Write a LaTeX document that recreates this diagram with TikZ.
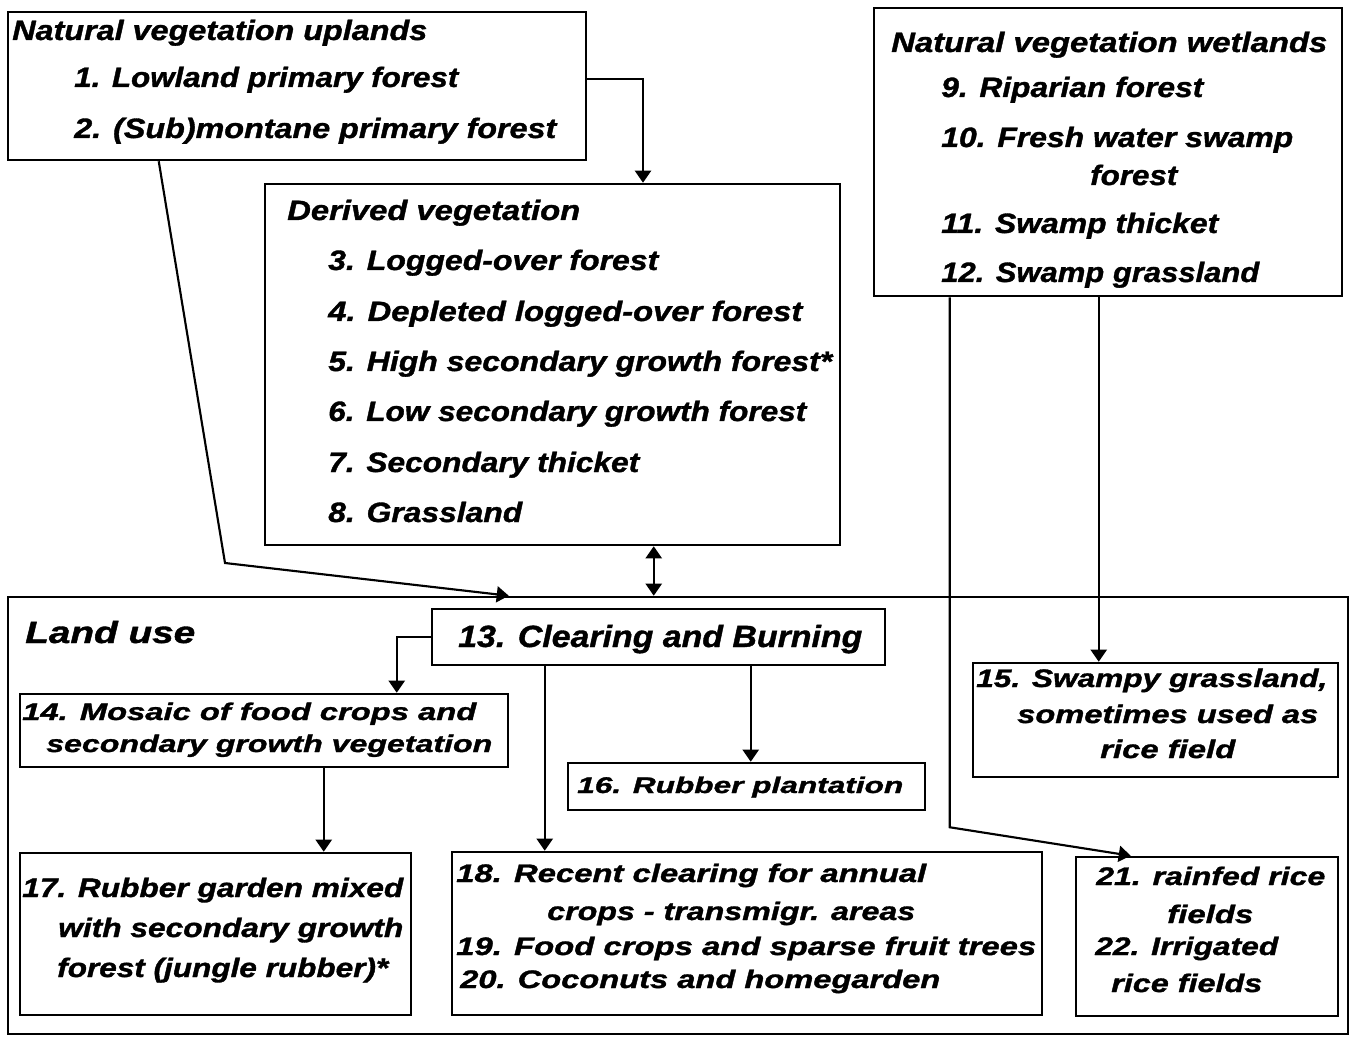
\documentclass[tikz,border=0pt]{standalone}
\usepackage{fontspec}
\setmainfont{Liberation Sans}[BoldItalicFeatures={FakeBold=1.2}]
\usepackage{graphicx}
\usetikzlibrary{arrows.meta,calc,fit}
\newdimen\pxu \pxu=0.75pt
\newcommand\fw[2]{\resizebox{#1\pxu}{\height}{#2}}
\begin{document}
\begin{tikzpicture}[x=0.75pt,y=-0.75pt,
  box/.style={draw,line width=1.9pt,inner sep=0pt},
  txt/.style={anchor=base west,inner sep=0pt},
  fa/.style={txt,font=\fontsize{21}{25}\selectfont\bfseries\itshape},
  fb/.style={txt,font=\fontsize{23}{27}\selectfont\bfseries\itshape},
  fc/.style={txt,font=\fontsize{18}{22}\selectfont\bfseries\itshape},
  fd/.style={txt,font=\fontsize{19}{23}\selectfont\bfseries\itshape},
  fe/.style={txt,font=\fontsize{20}{24}\selectfont\bfseries\itshape},
  ff/.style={txt,font=\fontsize{17}{21}\selectfont\bfseries\itshape},
  tip/.tip={Triangle[width=12pt,length=9pt]},
  arr/.style={line width=1.6pt,-tip},
  darr/.style={line width=1.6pt,tip-tip}]
\fill[white] (0,0) rectangle (1353,1037);
\useasboundingbox (0,0) rectangle (1353,1037);

% boxes
\node[box,fit={(8,12) (586,160)}] (up) {};
\node[box,fit={(265,184) (840,545)}] (der) {};
\node[box,fit={(874,8) (1342,296)}] (wet) {};
\node[box,fit={(8,597) (1348,1034)}] (lu) {};
\node[box,fit={(432,609) (885,665)}] (c13) {};
\node[box,fit={(20,694) (508,767)}] (b14) {};
\node[box,fit={(973,663) (1338,777)}] (b15) {};
\node[box,fit={(568,763) (925,810)}] (b16) {};
\node[box,fit={(20,853) (411,1015)}] (b17) {};
\node[box,fit={(452,852) (1042,1015)}] (b18) {};
\node[box,fit={(1076,857) (1338,1016)}] (b21) {};

% uplands
\node[fa] (tu0) at (12,40) {\fw{415}{Natural vegetation uplands}};
\node[fa] (tu1) at (74,87) {\fw{384}{1. Lowland primary forest}};
\node[fa] (tu2) at (74,138) {\fw{482}{2. (Sub)montane primary forest}};

% derived
\node[fa] (td0) at (287,220) {\fw{293}{Derived vegetation}};
\node[fa] (td3) at (328,270) {\fw{330}{3. Logged-over forest}};
\node[fa] (td4) at (328,321) {\fw{474}{4. Depleted logged-over forest}};
\node[fa] (td5) at (328,371) {\fw{504}{5. High secondary growth forest*}};
\node[fa] (td6) at (328,421) {\fw{478}{6. Low secondary growth forest}};
\node[fa] (td7) at (328,472) {\fw{311}{7. Secondary thicket}};
\node[fa] (td8) at (328,522) {\fw{194}{8. Grassland}};

% wetlands
\node[fa] (tw0) at (891,52) {\fw{436}{Natural vegetation wetlands}};
\node[fa] (tw9) at (941,97) {\fw{262}{9. Riparian forest}};
\node[fa] (tw10) at (941,147) {\fw{352}{10. Fresh water swamp}};
\node[fa] (tw10b) at (1090,185) {\fw{87}{forest}};
\node[fa] (tw11) at (941,233) {\fw{277}{11. Swamp thicket}};
\node[fa] (tw12) at (941,282) {\fw{318}{12. Swamp grassland}};

% land use
\node[fb] (tl) at (25,643) {\fw{170}{Land use}};
\node[fb] (t13) at (458,647) {\fw{404}{13. Clearing and Burning}};
\node[fc] (t14a) at (22,720) {\fw{454}{14. Mosaic of food crops and}};
\node[fc] (t14b) at (46,752) {\fw{446}{secondary growth vegetation}};
\node[ff] (t16) at (577,793) {\fw{326}{16. Rubber plantation}};
\node[fd] (t15a) at (976,687) {\fw{351}{15. Swampy grassland,}};
\node[fd] (t15b) at (1017,723) {\fw{301}{sometimes used as}};
\node[fd] (t15c) at (1100,758) {\fw{135}{rice field}};
\node[fe] (t17a) at (22,897) {\fw{381}{17. Rubber garden mixed}};
\node[fe] (t17b) at (58,937) {\fw{345}{with secondary growth}};
\node[fe] (t17c) at (57,977) {\fw{331}{forest (jungle rubber)*}};
\node[fd] (t18a) at (456,882) {\fw{470}{18. Recent clearing for annual}};
\node[fd] (t18b) at (547,920) {\fw{368}{crops - transmigr. areas}};
\node[fd] (t19) at (456,955) {\fw{580}{19. Food crops and sparse fruit trees}};
\node[fd] (t20) at (460,988) {\fw{480}{20. Coconuts and homegarden}};
\node[fd] (t21a) at (1096,885) {\fw{229}{21. rainfed rice}};
\node[fd] (t21b) at (1167,923) {\fw{86}{fields}};
\node[fd] (t22a) at (1095,955) {\fw{183}{22. Irrigated}};
\node[fd] (t22b) at (1111,992) {\fw{151}{rice fields}};

% connectors
\coordinate (k1) at ($(up.north east)+(0,68)$);
\draw[arr] (k1) -| ($(der.north)+(90.5,0)$);
\draw[arr] ($(up.south west)+(152,0)$) -- (225,563) -- ($(lu.north west)+(502,0)$);
\coordinate (k2) at ($(der.south west)+(390,0)$);
\draw[darr] (k2) -- (k2 |- lu.north);
\coordinate (k3) at ($(wet.south west)+(77,0)$);
\draw[arr] (k3) -- ($(k3)+(0,530)$) -- ($(b21.north west)+(56,0)$);
\coordinate (k4) at ($(wet.south west)+(226,0)$);
\draw[arr] (k4) -- (k4 |- b15.north);
\coordinate (k5) at ($(b14.north west)+(378,0)$);
\draw[arr] (c13.west) -| (k5);
\coordinate (k6) at ($(c13.south west)+(114,0)$);
\draw[arr] (k6) -- (k6 |- b18.north);
\coordinate (k7) at ($(c13.south west)+(320,0)$);
\draw[arr] (k7) -- (k7 |- b16.north);
\coordinate (k8) at ($(b14.south west)+(305,0)$);
\draw[arr] (k8) -- (k8 |- b17.north);
\end{tikzpicture}
\end{document}
